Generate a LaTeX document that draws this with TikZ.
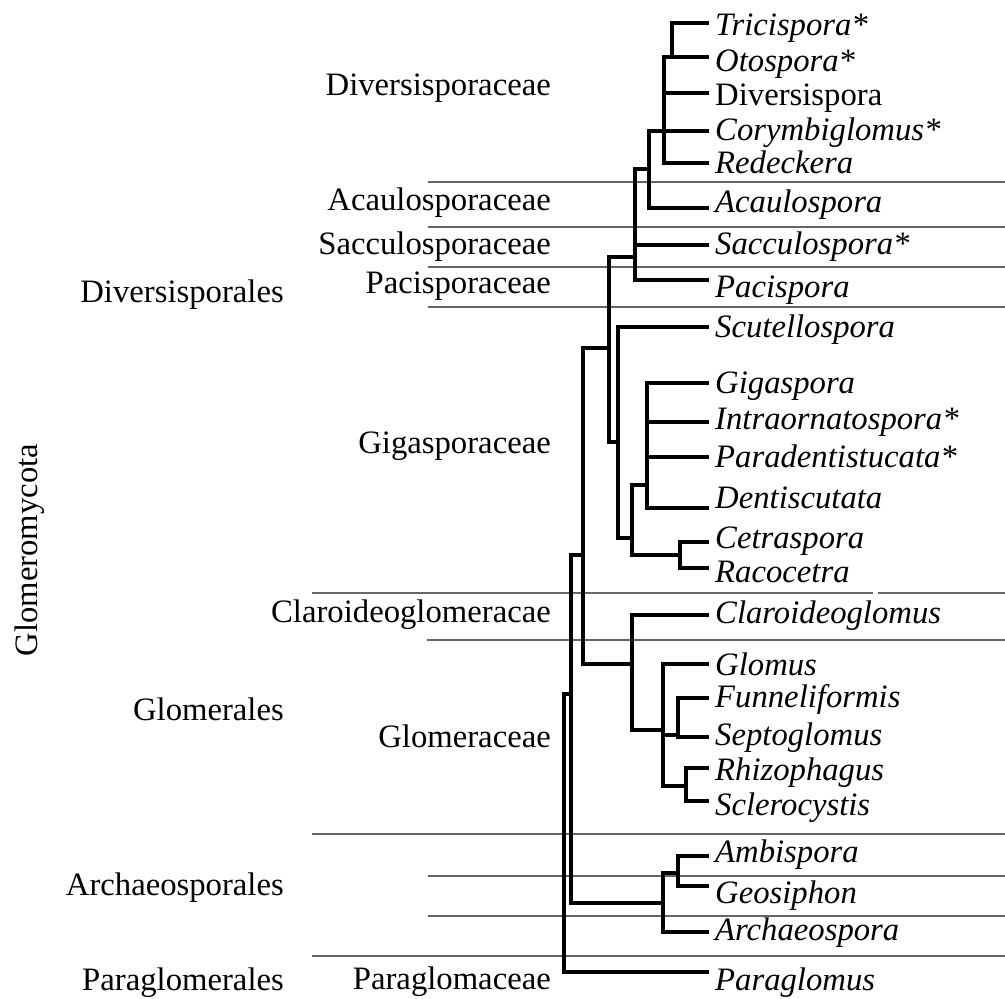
\documentclass[tikz,border=0pt]{standalone}
\usepackage{fontspec}
\setmainfont{Liberation Serif}

\begin{document}
\begin{tikzpicture}[
    x=1pt, y=-1pt,
    treeline/.style={black, line width=3.5pt, line cap=rect},
    sepline/.style={black!60, line width=1.7pt},
    taxlabel/.style={anchor=base west, inner sep=0pt, font=\fontsize{32.7}{36}\selectfont\itshape},
    famlabel/.style={anchor=base east, inner sep=0pt, font=\fontsize{32.7}{36}\selectfont},
    phylabel/.style={anchor=base, inner sep=0pt, rotate=90, font=\fontsize{32.7}{36}\selectfont},
]

\useasboundingbox (0,0) rectangle (1005,999);

\def\tipx{707}   % end of all terminal branches
\def\labx{715}   % left edge of genus names
\def\famx{551}   % right edge of family names
\def\ordx{284}   % right edge of order names

% ── Separator lines ─────────────────────────────────────────
\foreach \sx/\sy in {428/182, 428/227, 428/267, 428/307, 427/640,
                     312/834, 428/876, 428/916, 312/956} {
    \draw[sepline] (\sx, \sy) -- (1005, \sy);
}
\draw[sepline] (312, 593) -- (873, 593);
\draw[sepline] (878, 593) -- (1005, 593);

% ── Tips ────────────────────────────────────────────────────
\foreach \name/\ty in {tric/23, otos/57, dive/93, cory/131, rede/163,
                       acau/208, sacc/245, paci/280, scut/327, giga/383,
                       intr/422, para/457, dent/508, cetr/542, raco/568,
                       clar/615, glom/664, funn/698, sept/737, rhiz/768,
                       scle/801, ambi/856, geos/886, arch/932, pagl/972} {
    \coordinate (\name) at (\tipx, \ty);
}

% ── Internal nodes (x of vertical, y where parent joins) ────
\coordinate (root) at (564, 694);
\coordinate (nA)   at (571, 694);
\coordinate (nB)   at (583, 555);
\coordinate (nDvs) at (609, 348);
\coordinate (nD1)  at (635, 257);
\coordinate (nD2)  at (649, 169);
\coordinate (nD3)  at (664, 131);
\coordinate (nTO)  at (672, 57);
\coordinate (nGig) at (618, 442);
\coordinate (nG2)  at (632, 538);
\coordinate (nG3)  at (647, 485);
\coordinate (nCR)  at (680, 555);
\coordinate (nGlo) at (632, 664);
\coordinate (nGm)  at (663, 730);
\coordinate (nFS)  at (678, 735);
\coordinate (nRS)  at (686, 786);
\coordinate (nArc) at (663, 903);
\coordinate (nAG)  at (678, 873);

% ── Branches ────────────────────────────────────────────────
\foreach \p/\c in {root/pagl, root/nA, nA/nB, nA/nArc,
                   nB/nDvs, nB/nGlo,
                   nDvs/nD1, nDvs/nGig,
                   nD1/nD2, nD1/sacc, nD1/paci,
                   nD2/nD3, nD2/acau,
                   nD3/nTO, nD3/dive, nD3/cory, nD3/rede,
                   nTO/tric, nTO/otos,
                   nGig/scut, nGig/nG2,
                   nG2/nG3, nG2/nCR,
                   nG3/giga, nG3/intr, nG3/para, nG3/dent,
                   nCR/cetr, nCR/raco,
                   nGlo/clar, nGlo/nGm,
                   nGm/glom, nGm/nFS, nGm/nRS,
                   nFS/funn, nFS/sept,
                   nRS/rhiz, nRS/scle,
                   nArc/nAG, nArc/arch,
                   nAG/ambi, nAG/geos} {
    \draw[treeline] (\p) |- (\c);
}

% ── Genus names ─────────────────────────────────────────────
\foreach \name/\by/\txt in {tric/35/Tricispora*, otos/71/Otospora*,
        dive/105/{\upshape Diversispora}, cory/140/Corymbiglomus*,
        rede/173/Redeckera, acau/212/Acaulospora, sacc/254/Sacculospora*,
        paci/297/Pacispora, scut/337/Scutellospora, giga/393/Gigaspora,
        intr/429/Intraornatospora*, para/467/Paradentistucata*,
        dent/508/Dentiscutata, cetr/548/Cetraspora, raco/582/Racocetra,
        clar/623/Claroideoglomus, glom/675/Glomus, funn/707/Funneliformis,
        sept/745/Septoglomus, rhiz/780/Rhizophagus, scle/815/Sclerocystis,
        ambi/862/Ambispora, geos/903/Geosiphon, arch/940/Archaeospora,
        pagl/990/Paraglomus} {
    \node[taxlabel] (lab-\name) at (\labx, \by) {\txt};
}

% ── Family names ────────────────────────────────────────────
\foreach \name/\by/\txt in {dvs/95/Diversisporaceae, aca/210/Acaulosporaceae,
        sac/254/Sacculosporaceae, pac/293/Pacisporaceae,
        gig/453/Gigasporaceae, cla/622/Claroideoglomeracae,
        glo/747/Glomeraceae, par/989/Paraglomaceae} {
    \node[famlabel] (fam-\name) at (\famx, \by) {\txt};
}

% ── Order names ─────────────────────────────────────────────
\foreach \name/\by/\txt in {dvs/302/Diversisporales, glo/720/Glomerales,
        arc/895/Archaeosporales, par/990/Paraglomerales} {
    \node[famlabel] (ord-\name) at (\ordx, \by) {\txt};
}

% ── Phylum ──────────────────────────────────────────────────
\node[phylabel] (phylum) at (37, 550) {Glomeromycota};

\end{tikzpicture}
\end{document}
